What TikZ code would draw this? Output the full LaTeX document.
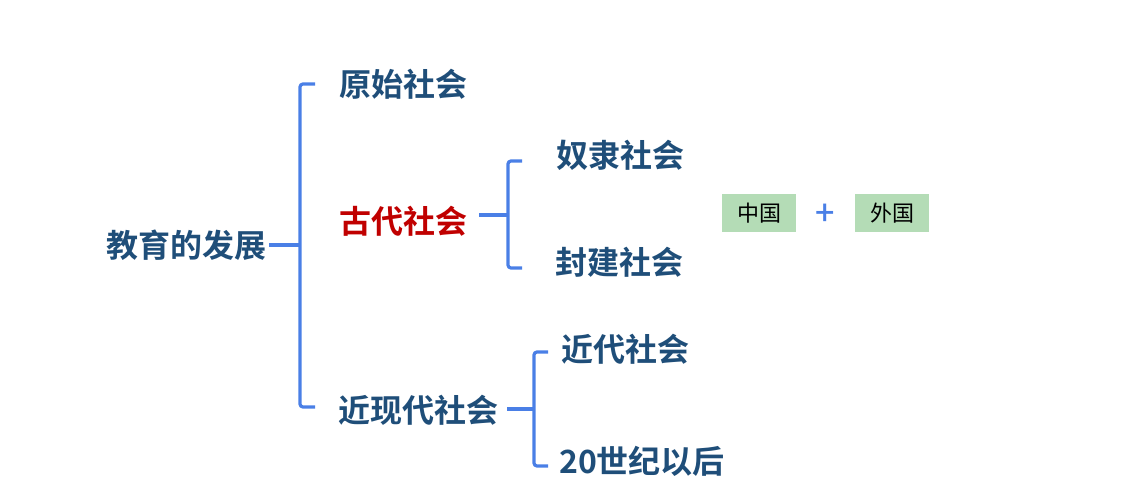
\documentclass[tikz,border=0pt]{standalone}
\usepackage{fontspec}
\newfontfamily\cjkb{Noto Sans CJK SC Bold}
\newfontfamily\cjk{Noto Sans CJK SC}
\newfontfamily\cjkm{Noto Sans CJK SC Medium}
\definecolor{navy}{HTML}{1F4E79}
\definecolor{crimson}{HTML}{C00000}
\definecolor{bracketblue}{HTML}{4A7FE6}
\definecolor{tagbg}{HTML}{B4DCB6}
\tikzset{
  topic/.style={anchor=west, inner sep=0pt, text=navy, font=\cjkb\fontsize{32}{36}\selectfont},
  hot/.style={topic, text=crimson},
  tag/.style={fill=tagbg, minimum width=74pt, minimum height=38pt, inner sep=0pt, text=black, font=\cjk\fontsize{22}{24}\selectfont},
  brk/.style={draw=bracketblue, line width=3.2pt, rounded corners=3pt},
  stem/.style={draw=bracketblue, line width=3.2pt},
}
\begin{document}
\begin{tikzpicture}[x=1pt, y=-1pt]
\useasboundingbox (0,0) rectangle (1128,500);

% root and first level
\node[topic] (root) at (106,245) {教育的发展};
\node[topic] (prim) at (339,84) {原始社会};
\node[hot]   (anc)  at (339,221) {古代社会};
\node[topic] (mod)  at (338,410) {近现代社会};

% second level under 古代社会
\node[topic] (slave) at (556,155) {奴隶社会};
\node[topic] (feud)  at (555,262) {封建社会};

% second level under 近现代社会
\node[topic] (modern) at (561,349) {近代社会};
\node[topic] (after)  at (559,461) {20世纪以后};

% tags
\node[tag] (cn) at (759,213) {中国};
\node[text=bracketblue, inner sep=0pt, font=\cjkm\fontsize{34}{34}\selectfont] (plus) at (825,215) {+};
\node[tag] (fr) at (892,213) {外国};

% bracket joints
\coordinate (j0) at (300,245);
\coordinate (j1) at (508,215);
\coordinate (j2) at (534,409);

% root bracket
\draw[stem] ([xshift=3pt]root.east |- j0) -- (j0);
\draw[brk] (315,84) -- (300,84) -- (300,407) -- (315,407);

% 古代社会 bracket
\draw[stem] ([xshift=12pt]anc.east |- j1) -- (j1);
\draw[brk] (522,161) -- (508,161) -- (508,268) -- (522,268);

% 近现代社会 bracket
\draw[stem] ([xshift=9pt]mod.east |- j2) -- (j2);
\draw[brk] (548,352) -- (534,352) -- (534,466) -- (548,466);
\end{tikzpicture}
\end{document}
